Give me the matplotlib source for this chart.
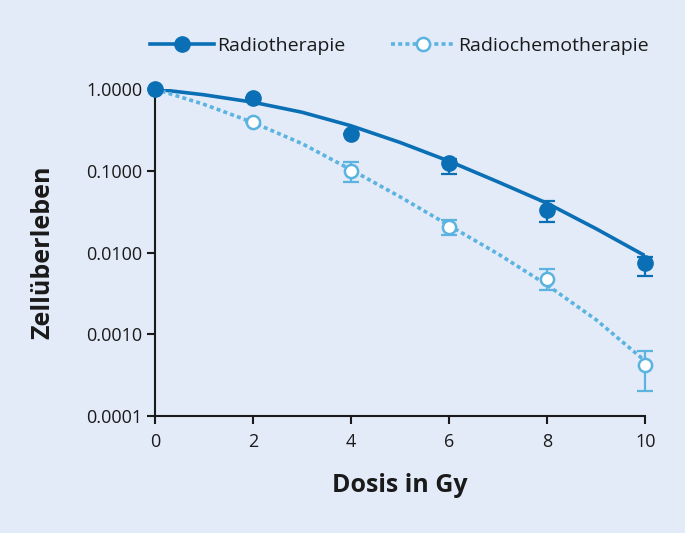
import numpy as np
import matplotlib
matplotlib.use("Agg")
import matplotlib.pyplot as plt

# Daten
dosis = [0, 2, 4, 6, 8, 10]
rt_werte = [1.0, 0.77, 0.28, 0.125, 0.033, 0.0075]
rt_fehler_unten = [0.0, 0.0, 0.0, 0.034, 0.0094, 0.0023]
rt_fehler_oben = [0.0, 0.0, 0.0, 0.015, 0.010, 0.0014]
rct_werte = [1.0, 0.39, 0.10, 0.0204, 0.0048, 0.00042]
rct_fehler_unten = [0.0, 0.0, 0.028, 0.004, 0.0013, 0.000216]
rct_fehler_oben = [0.0, 0.0, 0.027, 0.0045, 0.0014, 0.0002]

# angepasste Kurven
kurve_dosis = [0, 1, 2, 3, 4, 5, 6, 7, 8, 9, 10]
rt_kurve = [1.0, 0.85, 0.69, 0.52, 0.355, 0.222, 0.131, 0.073, 0.040, 0.0195, 0.0091]
rct_kurve = [1.0, 0.65, 0.39, 0.215, 0.103, 0.048, 0.0214, 0.0096, 0.0040, 0.0015, 0.00047]

dunkelblau = "#0b6fb5"
hellblau = "#5bb3e0"
hintergrund = "#e3ebf8"
textfarbe = "#1a1a1a"

plt.rcParams["font.family"] = ["Open Sans", "DejaVu Sans"]

fig = plt.figure(figsize=(6.85, 5.33), dpi=100, facecolor=hintergrund)
ax = fig.add_axes([0.226, 0.2195, 0.716, 0.6135])
ax.set_facecolor(hintergrund)

ax.plot(kurve_dosis, rt_kurve, color=dunkelblau, lw=2.6, zorder=3)
ax.plot(kurve_dosis, rct_kurve, color=hellblau, lw=2.6,
        linestyle=(0, (1.1, 0.9)), zorder=3)

ax.errorbar(dosis, rt_werte, yerr=[rt_fehler_unten, rt_fehler_oben], fmt="none",
            ecolor=dunkelblau, elinewidth=1.6, capsize=6, capthick=1.6, zorder=4,
            clip_on=False)
ax.errorbar(dosis, rct_werte, yerr=[rct_fehler_unten, rct_fehler_oben], fmt="none",
            ecolor=hellblau, elinewidth=1.6, capsize=6, capthick=1.6, zorder=4,
            clip_on=False)
ax.plot(dosis, rt_werte, "o", color=dunkelblau, ms=11, zorder=6, clip_on=False)
ax.plot(dosis[1:], rct_werte[1:], "o", mfc="white", mec=hellblau, mew=1.8,
        ms=9.5, zorder=5, clip_on=False)

ax.set_yscale("log")
ax.set_ylim(1e-4, 1.0)
ax.set_xlim(0, 10)
ax.set_xticks([0, 2, 4, 6, 8, 10])
ax.set_yticks([1e-4, 1e-3, 1e-2, 1e-1, 1.0])
ax.set_yticklabels(["0.0001", "0.0010", "0.0100", "0.1000", "1.0000"])
ax.minorticks_off()
ax.tick_params(axis="both", labelsize=13, colors=textfarbe, width=1.5, length=6,
               direction="out")
ax.tick_params(axis="x", pad=6)
ax.tick_params(axis="y", pad=3)

for seite in ["top", "right"]:
    ax.spines[seite].set_visible(False)
for seite in ["left", "bottom"]:
    ax.spines[seite].set_linewidth(1.5)
    ax.spines[seite].set_color(textfarbe)

ax.set_xlabel("Dosis in Gy", fontsize=18, fontweight="bold", color=textfarbe,
              labelpad=16)
ax.set_ylabel("Zellüberleben", fontsize=18, fontweight="bold", color=textfarbe,
              labelpad=22)

h1, = ax.plot([], [], color=dunkelblau, lw=2.6, marker="o", ms=11)
h2, = ax.plot([], [], color=hellblau, lw=2.6, linestyle=(0, (1.1, 0.9)),
              marker="o", mfc="white", mec=hellblau, mew=1.8, ms=9.5)
fig.legend([h1, h2], ["Radiotherapie", "Radiochemotherapie"], loc="center",
           bbox_to_anchor=(0.583, 0.914), ncol=2, frameon=False, fontsize=14,
           handlelength=3.3, handletextpad=0.2, columnspacing=2.3,
           labelcolor=textfarbe)

fig.savefig("out.png", dpi=100, facecolor=hintergrund)
